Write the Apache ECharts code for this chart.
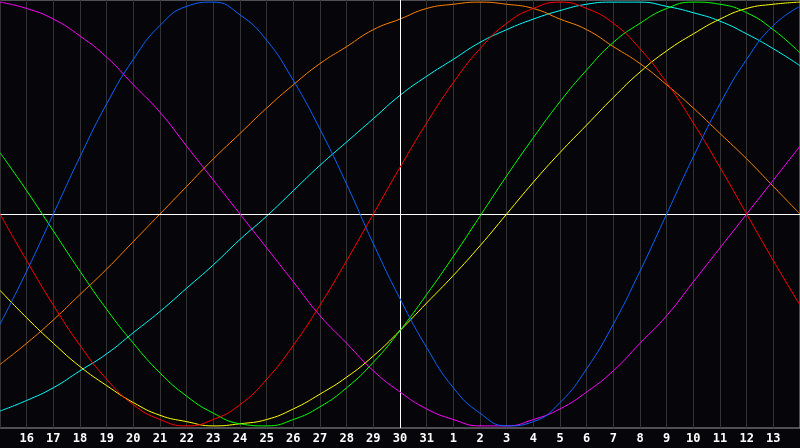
<!DOCTYPE html>
<html>
<head>
<meta charset="utf-8">
<script src="https://cdn.jsdelivr.net/npm/echarts@6/dist/echarts.min.js"></script>
<style>
html,body{margin:0;padding:0;background:#06060a;}
#chart{width:800px;height:448px;}
</style>
</head>
<body>
<div id="chart"></div>
<script>
// day labels for index 0..30 (index 0 = 15th, index 30 = 14th)
const tickLabels = ['15','16','17','18','19','20','21','22','23','24','25','26','27','28','29','30','31','1','2','3','4','5','6','7','8','9','10','11','12','13','14'];
const dayIndex = [0,1,2,3,4,5,6,7,8,9,10,11,12,13,14,15,16,17,18,19,20,21,22,23,24,25,26,27,28,29,30];

const blue    = [-52,-27,0,27,52,73,89,98,100,94,82,63,40,14,-14,-40,-63,-82,-94,-100,-98,-89,-73,-52,-27,0,27,52,73,89,98];
const red     = [0,-22,-43,-62,-78,-90,-97,-100,-97,-90,-78,-62,-43,-22,0,22,43,62,78,90,97,100,97,90,78,62,43,22,0,-22,-43];
const green   = [29,11,-8,-27,-45,-61,-75,-86,-94,-99,-100,-97,-91,-82,-70,-55,-38,-20,-1,18,36,53,68,81,90,97,100,99,95,87,76];
const yellow  = [-36,-49,-61,-72,-81,-89,-95,-98,-100,-99,-97,-92,-85,-77,-67,-55,-42,-29,-15,0,15,29,42,55,67,77,85,92,97,99,100];
const magenta = [100,97,92,84,74,61,48,32,16,0,-16,-32,-48,-61,-74,-84,-92,-97,-100,-100,-97,-92,-84,-74,-61,-48,-32,-16,0,16,32];
const orange  = [-71,-61,-50,-38,-26,-13,0,13,26,38,50,61,71,79,87,92,97,99,100,99,97,92,87,79,71,61,50,38,26,13,0];
const cyan    = [-93,-88,-82,-74,-66,-56,-46,-35,-24,-12,-1,11,23,34,45,56,65,73,81,87,92,96,99,100,100,98,95,91,85,78,70];

const seriesDefs = [
  {name:'cyan', data:cyan, color:'#00ffff'},
  {name:'orange', data:orange, color:'#ff8000'},
  {name:'magenta', data:magenta, color:'#ff00ff'},
  {name:'yellow', data:yellow, color:'#ffff00'},
  {name:'green', data:green, color:'#00ff00'},
  {name:'red', data:red, color:'#ff0000'},
  {name:'blue', data:blue, color:'#0a64ff'}
];

const chart = echarts.init(document.getElementById('chart'));
const series = seriesDefs.map((s, i) => ({
  name: s.name,
  type: 'line',
  smooth: true,
  symbol: 'none',
  lineStyle: {color: s.color, width: 1},
  data: dayIndex.map((d, j) => [d, s.data[j]]),
  z: 3 + i
}));
series.push({
  type: 'line',
  data: [],
  silent: true,
  z: 2,
  markLine: {
    silent: true,
    symbol: 'none',
    label: {show: false},
    lineStyle: {color: '#ffffff', width: 1, type: 'solid'},
    data: [{xAxis: 15}, {yAxis: 0}]
  }
});

chart.setOption({
  animation: false,
  backgroundColor: '#06060a',
  grid: {left: 0, right: 0, top: 0, bottom: 20, show: true, borderColor: '#9a9a9a', borderWidth: 1, backgroundColor: 'transparent'},
  xAxis: {
    type: 'value', min: 0, max: 30, interval: 1,
    axisLine: {show: false}, axisTick: {show: false},
    splitLine: {show: true, lineStyle: {color: '#333333', width: 1}},
    axisLabel: {
      color: '#ffffff', fontFamily: 'DejaVu Sans Mono', fontWeight: 'bold', fontSize: 12, margin: 5,
      showMinLabel: false, showMaxLabel: false,
      formatter: v => tickLabels[Math.round(v)]
    }
  },
  yAxis: {
    type: 'value', min: -101, max: 101,
    axisLine: {show: false}, axisTick: {show: false}, axisLabel: {show: false},
    splitLine: {show: false}
  },
  series: series
});
</script>
</body>
</html>
